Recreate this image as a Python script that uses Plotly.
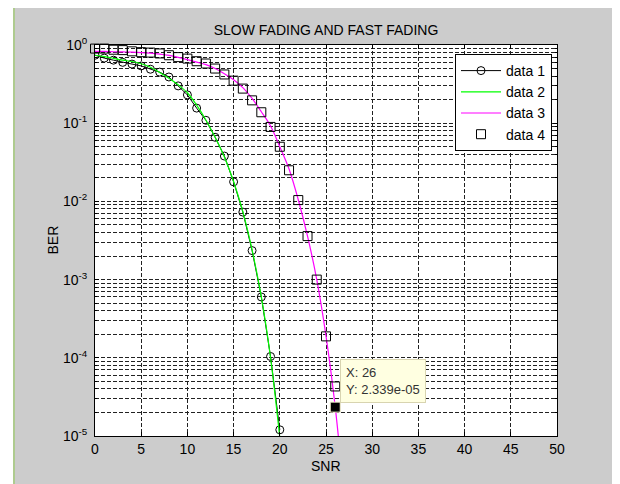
import math
import plotly.graph_objects as go

# ---------------- data ----------------
snr_1 = list(range(0, 21))
ber_1 = [0.74, 0.68, 0.64, 0.60, 0.57, 0.54, 0.49, 0.45, 0.39, 0.30, 0.23,
         0.156, 0.109, 0.066, 0.038, 0.0178, 0.0073, 0.00235, 6.0e-4, 1.04e-4, 1.2e-5]

snr_2 = list(range(0, 21))
ber_2 = [0.74, 0.71, 0.675, 0.64, 0.615, 0.575, 0.52, 0.445, 0.375, 0.31, 0.245,
         0.17, 0.11, 0.066, 0.037, 0.018, 0.0074, 0.0024, 6.0e-4, 1.0e-4, 9.5e-6]

snr_3 = list(range(0, 28))
ber_3 = [0.83, 0.83, 0.82, 0.815, 0.81, 0.80, 0.785, 0.765, 0.735, 0.695, 0.65,
         0.605, 0.56, 0.50, 0.43, 0.36, 0.285, 0.207, 0.14, 0.092, 0.05,
         0.026, 0.0105, 0.0036, 0.001, 1.9e-4, 2.339e-5, 1.5e-6]

snr_4 = list(range(0, 27))
ber_4 = [0.90, 0.90, 0.87, 0.86, 0.83, 0.81, 0.80, 0.78, 0.74, 0.70, 0.67,
         0.62, 0.58, 0.50, 0.42, 0.35, 0.277, 0.196, 0.138, 0.0896, 0.050,
         0.025, 0.0104, 0.0036, 1.0e-3, 1.88e-4, 4.3e-5]

tip_x = [26]
tip_y = [2.339e-05]

x_ticks = list(range(0, 51, 5))
y_tickvals = [1, 1e-1, 1e-2, 1e-3, 1e-4, 1e-5]
y_ticktext = ["10<sup>0</sup>", "10<sup>-1</sup>", "10<sup>-2</sup>",
              "10<sup>-3</sup>", "10<sup>-4</sup>", "10<sup>-5</sup>"]

FONT = "Liberation Sans, Arial, sans-serif"

# page offset (body margin) is 8px; plot area in page pixels: x 95..557, y 45..436
PX0, PX1, PY0, PY1 = 95, 557, 45, 436
def px_x(p):
    return (p - PX0) / (PX1 - PX0)
def px_y(p):
    return (PY1 - p) / (PY1 - PY0)

fig = go.Figure()
fig.add_trace(go.Scatter(x=snr_1, y=ber_1, name="data 1", mode="lines+markers",
                         line=dict(color="black", width=1),
                         marker=dict(symbol="circle-open", size=8, color="black",
                                     line=dict(width=1, color="black"))))
fig.add_trace(go.Scatter(x=snr_2, y=ber_2, name="data 2", mode="lines",
                         line=dict(color="#00ff00", width=1.2, shape="spline")))
fig.add_trace(go.Scatter(x=snr_3, y=ber_3, name="data 3", mode="lines",
                         line=dict(color="#ff00ff", width=1.2, shape="spline")))
fig.add_trace(go.Scatter(x=snr_4, y=ber_4, name="data 4", mode="markers",
                         cliponaxis=False,
                         marker=dict(symbol="square-open", size=9, color="black",
                                     line=dict(width=1, color="black"))))
fig.add_trace(go.Scatter(x=tip_x, y=tip_y, mode="markers", showlegend=False,
                         hoverinfo="skip",
                         marker=dict(symbol="square", size=10, color="black",
                                     line=dict(width=1, color="#f3eecb"))))

fig.add_annotation(x=tip_x[0], y=math.log10(tip_y[0]), xref="x", yref="y",
                   text="X: 26<br>Y: 2.339e-05", showarrow=False,
                   xanchor="left", yanchor="bottom", xshift=5, yshift=4,
                   align="left", bgcolor="#ffffe1", bordercolor="#d8d4b0",
                   borderwidth=1, borderpad=5,
                   font=dict(family=FONT, size=13, color="#333"))

grid_common = dict(showgrid=True, gridcolor="#222", gridwidth=1, griddash="4px,2px")

fig.update_xaxes(range=[0, 50], tickvals=x_ticks, ticks="inside", ticklen=4,
                 showline=True, linecolor="black", linewidth=1, mirror="ticks",
                 tickcolor="black", zeroline=False,
                 tickfont=dict(family=FONT, size=14, color="black"),
                 **grid_common)
fig.update_yaxes(type="log", range=[-5, 0], tickvals=y_tickvals, ticktext=y_ticktext,
                 ticks="inside", ticklen=4, tickcolor="black",
                 showline=True, linecolor="black", linewidth=1, mirror="ticks",
                 zeroline=False, ticklabelstandoff=4,
                 tickfont=dict(family=FONT, size=14, color="black"),
                 minor=dict(dtick="D1", ticks="inside", ticklen=2, tickcolor="black",
                            showgrid=True, gridcolor="#222", gridwidth=1,
                            griddash="4px,2px"),
                 **grid_common)

# window decorations: white strip on the left and light green borders
shapes = [
    dict(type="rect", xref="paper", yref="paper", x0=-0.5, x1=px_x(13),
         y0=-0.5, y1=1.5, fillcolor="white", line_width=0, layer="below"),
    dict(type="rect", xref="paper", yref="paper", x0=px_x(13), x1=px_x(15),
         y0=-0.5, y1=1.5, fillcolor="#aecb8f", line_width=0, layer="below"),
    dict(type="rect", xref="paper", yref="paper", x0=px_x(613), x1=1.5,
         y0=-0.5, y1=1.5, fillcolor="#c2d9a4", line_width=0, layer="below"),
]

fig.add_annotation(text="SNR", xref="paper", yref="paper", x=0.5, y=px_y(466),
                   xanchor="center", yanchor="middle",
                   showarrow=False, font=dict(family=FONT, size=14, color="black"))
fig.add_annotation(text="BER", xref="paper", yref="paper", x=px_x(52), y=0.5,
                   xanchor="center", yanchor="middle",
                   textangle=-90, showarrow=False,
                   font=dict(family=FONT, size=14, color="black"))

fig.update_layout(
    width=612, height=476,
    margin=dict(l=PX0 - 8, r=620 - PX1, t=PY0 - 8, b=484 - PY1),
    paper_bgcolor="#cccccc", plot_bgcolor="white",
    shapes=shapes,
    title=dict(text="SLOW FADING AND FAST FADING", x=0.5, xref="paper",
               y=1 - (30 - 8) / 476, yanchor="middle",
               font=dict(family=FONT, size=14, color="black")),
    legend=dict(x=px_x(552), xanchor="right", y=px_y(54), yanchor="top",
                bgcolor="white", bordercolor="black", borderwidth=1,
                font=dict(family=FONT, size=14, color="black"),
                itemwidth=40),
    hovermode=False,
)

fig.write_html("out.html")
